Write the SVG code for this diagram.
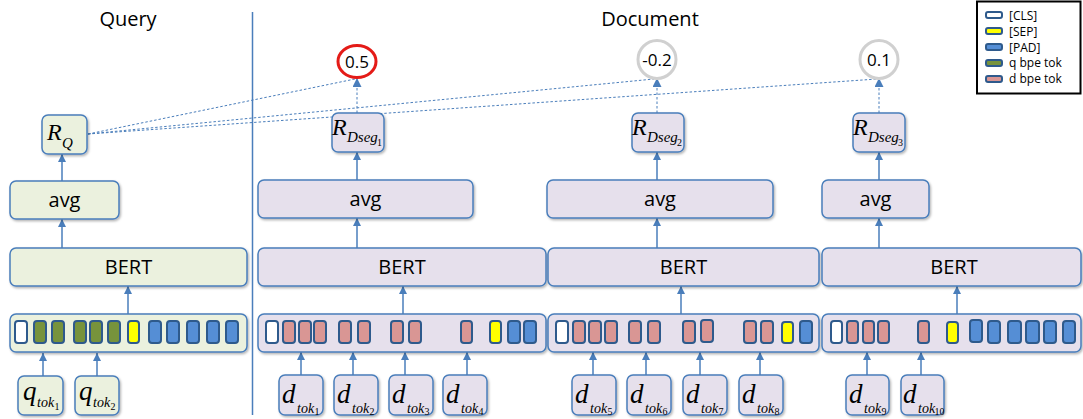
<svg xmlns="http://www.w3.org/2000/svg" width="1083" height="419" viewBox="0 0 1083 419">
<style>
.bq{fill:#EBF1DE;stroke:#4A7EBB;stroke-width:1.5;filter:url(#sh)}
.bd{fill:#E6E0EC;stroke:#4A7EBB;stroke-width:1.5;filter:url(#sh)}
.lbl{font-family:"Open Sans","Liberation Sans",sans-serif;font-size:20px;fill:#000;text-anchor:middle}
.ttl{font-family:"Open Sans","Liberation Sans",sans-serif;font-size:20px;fill:#000;text-anchor:middle}
.num{font-family:"Open Sans","Liberation Sans",sans-serif;font-size:17px;fill:#000;text-anchor:middle}
.leg{font-family:"Open Sans","Liberation Sans",sans-serif;font-size:12px;fill:#000}
.m{font-family:"Liberation Serif","Times New Roman",serif;font-style:italic;fill:#000}
.mu{font-family:"Liberation Serif","Times New Roman",serif;fill:#000}
.tk{stroke:#2E5A8C;stroke-width:2}
.w{fill:#FFFFFF}.p{fill:#D99694}.g{fill:#77933C}.b{fill:#558ED5}.y{fill:#FFFF00}
.arr{stroke:#4A7EBB;stroke-width:1.5;fill:none;marker-end:url(#ah)}
.dsh{stroke:#4A7EBB;stroke-width:1;fill:none;stroke-dasharray:2.5,2}
.dsha{stroke:#4A7EBB;stroke-width:1;fill:none;stroke-dasharray:2.5,2;marker-end:url(#ah2)}
</style>
<defs>
<filter id="sh" x="-10%" y="-10%" width="130%" height="140%">
<feDropShadow dx="1.2" dy="1.5" stdDeviation="1" flood-color="#000" flood-opacity="0.3"/>
</filter>
<marker id="ah" viewBox="0 0 10 10" refX="10" refY="5" markerWidth="8" markerHeight="8" markerUnits="userSpaceOnUse" orient="auto">
<path d="M0,0 L10,5 L0,10 z" fill="#4A7EBB"/>
</marker>
<marker id="ah2" viewBox="0 0 10 10" refX="10" refY="5" markerWidth="9" markerHeight="9" markerUnits="userSpaceOnUse" orient="auto">
<path d="M0,0 L10,5 L0,10 z" fill="#4A7EBB"/>
</marker>
</defs>
<rect x="0" y="0" width="1083" height="419" fill="#FFFFFF"/>

<text class="ttl" x="128" y="26">Query</text>
<text class="ttl" x="650" y="26">Document</text>
<line x1="252.5" y1="12" x2="252.5" y2="415" stroke="#4A7EBB" stroke-width="1.5"/>

<g id="connectors">
<line class="arr" x1="43" y1="376" x2="43" y2="353"/>
<line class="arr" x1="97" y1="376" x2="97" y2="353"/>
<line class="arr" x1="128" y1="314" x2="128" y2="286"/>
<line class="arr" x1="62" y1="248" x2="62" y2="219"/>
<line class="arr" x1="62" y1="181" x2="62" y2="154"/>
<line class="arr" x1="301" y1="375" x2="301" y2="352"/>
<line class="arr" x1="353" y1="375" x2="353" y2="352"/>
<line class="arr" x1="405" y1="375" x2="405" y2="352"/>
<line class="arr" x1="467" y1="375" x2="467" y2="352"/>
<line class="arr" x1="403" y1="314" x2="403" y2="286"/>
<line class="arr" x1="357" y1="248" x2="357" y2="218"/>
<line class="arr" x1="357" y1="180" x2="357" y2="152"/>
<line class="arr" x1="593" y1="375" x2="593" y2="352"/>
<line class="arr" x1="646" y1="375" x2="646" y2="352"/>
<line class="arr" x1="700" y1="375" x2="700" y2="352"/>
<line class="arr" x1="760" y1="375" x2="760" y2="352"/>
<line class="arr" x1="681" y1="314" x2="681" y2="286"/>
<line class="arr" x1="657" y1="248" x2="657" y2="218"/>
<line class="arr" x1="657" y1="180" x2="657" y2="152"/>
<line class="arr" x1="867" y1="375" x2="867" y2="352"/>
<line class="arr" x1="921" y1="375" x2="921" y2="352"/>
<line class="arr" x1="957" y1="314" x2="957" y2="286"/>
<line class="arr" x1="879" y1="248" x2="879" y2="218"/>
<line class="arr" x1="879" y1="180" x2="879" y2="152"/>
<line class="dsha" x1="357" y1="113" x2="357" y2="78"/>
<line class="dsha" x1="657" y1="113" x2="657" y2="78"/>
<line class="dsha" x1="879" y1="113" x2="879" y2="78"/>
<line class="dsh" x1="88" y1="134" x2="355" y2="79"/>
<line class="dsh" x1="88" y1="134" x2="654" y2="79"/>
<line class="dsh" x1="88" y1="134" x2="877" y2="79"/>
</g>

<g id="scores">
<ellipse cx="357" cy="61.5" rx="19" ry="16" fill="#FFFFFF" stroke="#E41B17" stroke-width="3"/>
<text class="num" x="357" y="67.5">0.5</text>
<circle cx="657" cy="59.5" r="19" fill="#FFFFFF" stroke="#D0D0D0" stroke-width="3"/>
<text class="num" x="657" y="65.5">-0.2</text>
<circle cx="879" cy="59.5" r="19" fill="#FFFFFF" stroke="#D0D0D0" stroke-width="3"/>
<text class="num" x="879" y="65.5">0.1</text>
</g>

<g id="RQ">
<rect class="bq" x="42" y="115" width="45" height="39" rx="6"/>
<text class="m" x="47" y="140" font-size="24">R</text>
<text class="m" x="62" y="148" font-size="15">Q</text>
</g>
<g id="avgQ">
<rect class="bq" x="10" y="181" width="109" height="38" rx="6"/>
<text class="lbl" x="64.5" y="207">avg</text>
</g>
<g id="bertQ">
<rect class="bq" x="10" y="248" width="237" height="38" rx="6"/>
<text class="lbl" x="128.5" y="274">BERT</text>
</g>
<g id="tokQ">
<rect class="bq" x="10" y="314" width="237" height="38" rx="6"/>
<rect class="tk w" x="15" y="321" width="12" height="22" rx="3"/>
<rect class="tk g" x="34" y="321" width="12" height="22" rx="3"/>
<rect class="tk g" x="52" y="321" width="12" height="22" rx="3"/>
<rect class="tk g" x="74" y="321" width="12" height="22" rx="3"/>
<rect class="tk g" x="90" y="321" width="12" height="22" rx="3"/>
<rect class="tk g" x="108" y="321" width="12" height="22" rx="3"/>
<rect class="tk y" x="128" y="321" width="11" height="22" rx="3"/>
<rect class="tk b" x="149" y="321" width="12" height="22" rx="3"/>
<rect class="tk b" x="167" y="321" width="12" height="22" rx="3"/>
<rect class="tk b" x="187" y="321" width="12" height="22" rx="3"/>
<rect class="tk b" x="207" y="321" width="12" height="22" rx="3"/>
<rect class="tk b" x="226" y="321" width="12" height="22" rx="3"/>
</g>
<g id="qtok1">
<rect class="bq" x="18" y="376" width="45" height="39" rx="6"/>
<text class="m" x="23" y="400" font-size="27">q</text>
<text class="m" x="37" y="407" font-size="14">tok</text>
<text class="mu" x="54.5" y="410" font-size="10">1</text>
</g>
<g id="qtok2">
<rect class="bq" x="75" y="376" width="44" height="39" rx="6"/>
<text class="m" x="79" y="400" font-size="27">q</text>
<text class="m" x="93" y="407" font-size="14">tok</text>
<text class="mu" x="110.5" y="410" font-size="10">2</text>
</g>

<g id="RD1">
<rect class="bd" x="332" y="113" width="52" height="39" rx="6"/>
<text class="m" x="332" y="135" font-size="24">R</text>
<text class="m" x="347" y="142" font-size="15">Dseg</text>
<text class="mu" x="377" y="146" font-size="10">1</text>
</g>
<g id="avgD1">
<rect class="bd" x="258" y="180" width="215" height="38" rx="6"/>
<text class="lbl" x="365.5" y="206">avg</text>
</g>
<g id="bertD1">
<rect class="bd" x="258" y="248" width="288" height="38" rx="6"/>
<text class="lbl" x="402" y="274">BERT</text>
</g>
<g id="tokD1">
<rect class="bd" x="258" y="314" width="288" height="38" rx="6"/>
<rect class="tk w" x="266" y="321" width="12" height="22" rx="3"/>
<rect class="tk p" x="283" y="321" width="12" height="22" rx="3"/>
<rect class="tk p" x="299" y="321" width="12" height="22" rx="3"/>
<rect class="tk p" x="314" y="321" width="12" height="22" rx="3"/>
<rect class="tk p" x="339" y="321" width="12" height="22" rx="3"/>
<rect class="tk p" x="358" y="321" width="12" height="22" rx="3"/>
<rect class="tk p" x="391" y="321" width="12" height="22" rx="3"/>
<rect class="tk p" x="409" y="321" width="12" height="22" rx="3"/>
<rect class="tk p" x="461" y="321" width="11" height="22" rx="3"/>
<rect class="tk y" x="490" y="321" width="11" height="22" rx="3"/>
<rect class="tk b" x="508" y="321" width="12" height="22" rx="3"/>
<rect class="tk b" x="524" y="321" width="12" height="22" rx="3"/>
</g>
<g id="dtok1">
<rect class="bd" x="279" y="375" width="44" height="40" rx="6"/>
<text class="m" x="282" y="403" font-size="27">d</text>
<text class="m" x="297" y="413" font-size="14">tok</text>
<text class="mu" x="314.5" y="415" font-size="10">1</text>
</g>
<g id="dtok2">
<rect class="bd" x="334" y="375" width="44" height="40" rx="6"/>
<text class="m" x="337" y="403" font-size="27">d</text>
<text class="m" x="352" y="413" font-size="14">tok</text>
<text class="mu" x="369.5" y="415" font-size="10">2</text>
</g>
<g id="dtok3">
<rect class="bd" x="389" y="375" width="44" height="40" rx="6"/>
<text class="m" x="392" y="403" font-size="27">d</text>
<text class="m" x="407" y="413" font-size="14">tok</text>
<text class="mu" x="424.5" y="415" font-size="10">3</text>
</g>
<g id="dtok4">
<rect class="bd" x="443" y="375" width="44" height="40" rx="6"/>
<text class="m" x="446" y="403" font-size="27">d</text>
<text class="m" x="461" y="413" font-size="14">tok</text>
<text class="mu" x="478.5" y="415" font-size="10">4</text>
</g>

<g id="RD2">
<rect class="bd" x="632" y="113" width="52" height="39" rx="6"/>
<text class="m" x="632" y="135" font-size="24">R</text>
<text class="m" x="647" y="142" font-size="15">Dseg</text>
<text class="mu" x="677" y="146" font-size="10">2</text>
</g>
<g id="avgD2">
<rect class="bd" x="547" y="180" width="226" height="38" rx="6"/>
<text class="lbl" x="660" y="206">avg</text>
</g>
<g id="bertD2">
<rect class="bd" x="548" y="248" width="271" height="38" rx="6"/>
<text class="lbl" x="683.5" y="274">BERT</text>
</g>
<g id="tokD2">
<rect class="bd" x="548" y="314" width="271" height="38" rx="6"/>
<rect class="tk w" x="556" y="321" width="12" height="22" rx="3"/>
<rect class="tk p" x="573" y="321" width="12" height="22" rx="3"/>
<rect class="tk p" x="589" y="321" width="12" height="22" rx="3"/>
<rect class="tk p" x="605" y="321" width="12" height="22" rx="3"/>
<rect class="tk p" x="629" y="321" width="12" height="22" rx="3"/>
<rect class="tk p" x="648" y="321" width="12" height="22" rx="3"/>
<rect class="tk p" x="683" y="321" width="12" height="22" rx="3"/>
<rect class="tk p" x="701" y="320" width="12" height="22" rx="3"/>
<rect class="tk p" x="744" y="321" width="12" height="22" rx="3"/>
<rect class="tk p" x="761" y="321" width="12" height="22" rx="3"/>
<rect class="tk y" x="782" y="322" width="11" height="21" rx="3"/>
<rect class="tk b" x="800" y="321" width="12" height="22" rx="3"/>
</g>
<g id="dtok5">
<rect class="bd" x="572" y="375" width="44" height="40" rx="6"/>
<text class="m" x="575" y="403" font-size="27">d</text>
<text class="m" x="590" y="413" font-size="14">tok</text>
<text class="mu" x="607.5" y="415" font-size="10">5</text>
</g>
<g id="dtok6">
<rect class="bd" x="627" y="375" width="44" height="40" rx="6"/>
<text class="m" x="630" y="403" font-size="27">d</text>
<text class="m" x="645" y="413" font-size="14">tok</text>
<text class="mu" x="662.5" y="415" font-size="10">6</text>
</g>
<g id="dtok7">
<rect class="bd" x="683" y="375" width="44" height="40" rx="6"/>
<text class="m" x="686" y="403" font-size="27">d</text>
<text class="m" x="701" y="413" font-size="14">tok</text>
<text class="mu" x="718.5" y="415" font-size="10">7</text>
</g>
<g id="dtok8">
<rect class="bd" x="739" y="375" width="44" height="40" rx="6"/>
<text class="m" x="742" y="403" font-size="27">d</text>
<text class="m" x="757" y="413" font-size="14">tok</text>
<text class="mu" x="774.5" y="415" font-size="10">8</text>
</g>

<g id="RD3">
<rect class="bd" x="853" y="113" width="52" height="39" rx="6"/>
<text class="m" x="853" y="135" font-size="24">R</text>
<text class="m" x="868" y="142" font-size="15">Dseg</text>
<text class="mu" x="898" y="146" font-size="10">3</text>
</g>
<g id="avgD3">
<rect class="bd" x="822" y="180" width="107" height="38" rx="6"/>
<text class="lbl" x="875.5" y="206">avg</text>
</g>
<g id="bertD3">
<rect class="bd" x="822" y="248" width="259" height="38" rx="6"/>
<text class="lbl" x="954" y="274">BERT</text>
</g>
<g id="tokD3">
<rect class="bd" x="822" y="314" width="259" height="38" rx="6"/>
<rect class="tk w" x="831" y="321" width="11" height="22" rx="3"/>
<rect class="tk p" x="847" y="321" width="11" height="22" rx="3"/>
<rect class="tk p" x="863" y="321" width="11" height="22" rx="3"/>
<rect class="tk p" x="878" y="321" width="11" height="22" rx="3"/>
<rect class="tk p" x="918" y="321" width="11" height="22" rx="3"/>
<rect class="tk y" x="947" y="322" width="11" height="21" rx="3"/>
<rect class="tk b" x="970" y="320" width="12" height="22" rx="3"/>
<rect class="tk b" x="988" y="321" width="12" height="22" rx="3"/>
<rect class="tk b" x="1008" y="321" width="13" height="22" rx="3"/>
<rect class="tk b" x="1026" y="321" width="13" height="22" rx="3"/>
<rect class="tk b" x="1044" y="321" width="12" height="22" rx="3"/>
<rect class="tk b" x="1063" y="321" width="12" height="22" rx="3"/>
</g>
<g id="dtok9">
<rect class="bd" x="846" y="375" width="43" height="40" rx="6"/>
<text class="m" x="849" y="403" font-size="27">d</text>
<text class="m" x="864" y="413" font-size="14">tok</text>
<text class="mu" x="881.5" y="415" font-size="10">9</text>
</g>
<g id="dtok10">
<rect class="bd" x="901" y="375" width="43" height="40" rx="6"/>
<text class="m" x="903" y="403" font-size="27">d</text>
<text class="m" x="918" y="413" font-size="14">tok</text>
<text class="mu" x="934.5" y="415" font-size="10">10</text>
</g>

<g id="legend">
<rect x="977" y="1.5" width="103.5" height="92" fill="#FFFFFF" stroke="#000" stroke-width="2"/>
<rect class="tk w" x="986" y="12" width="16" height="6" rx="2"/>
<rect class="tk y" x="986" y="28" width="16" height="6" rx="2"/>
<rect class="tk b" x="986" y="44" width="16" height="6" rx="2"/>
<rect class="tk g" x="986" y="60" width="16" height="6" rx="2"/>
<rect class="tk p" x="986" y="76" width="16" height="6" rx="2"/>
<text class="leg" x="1009" y="19.5">[CLS]</text>
<text class="leg" x="1009" y="35.5">[SEP]</text>
<text class="leg" x="1009" y="51.5">[PAD]</text>
<text class="leg" x="1009" y="67">q bpe tok</text>
<text class="leg" x="1009" y="83">d bpe tok</text>
</g>
</svg>
